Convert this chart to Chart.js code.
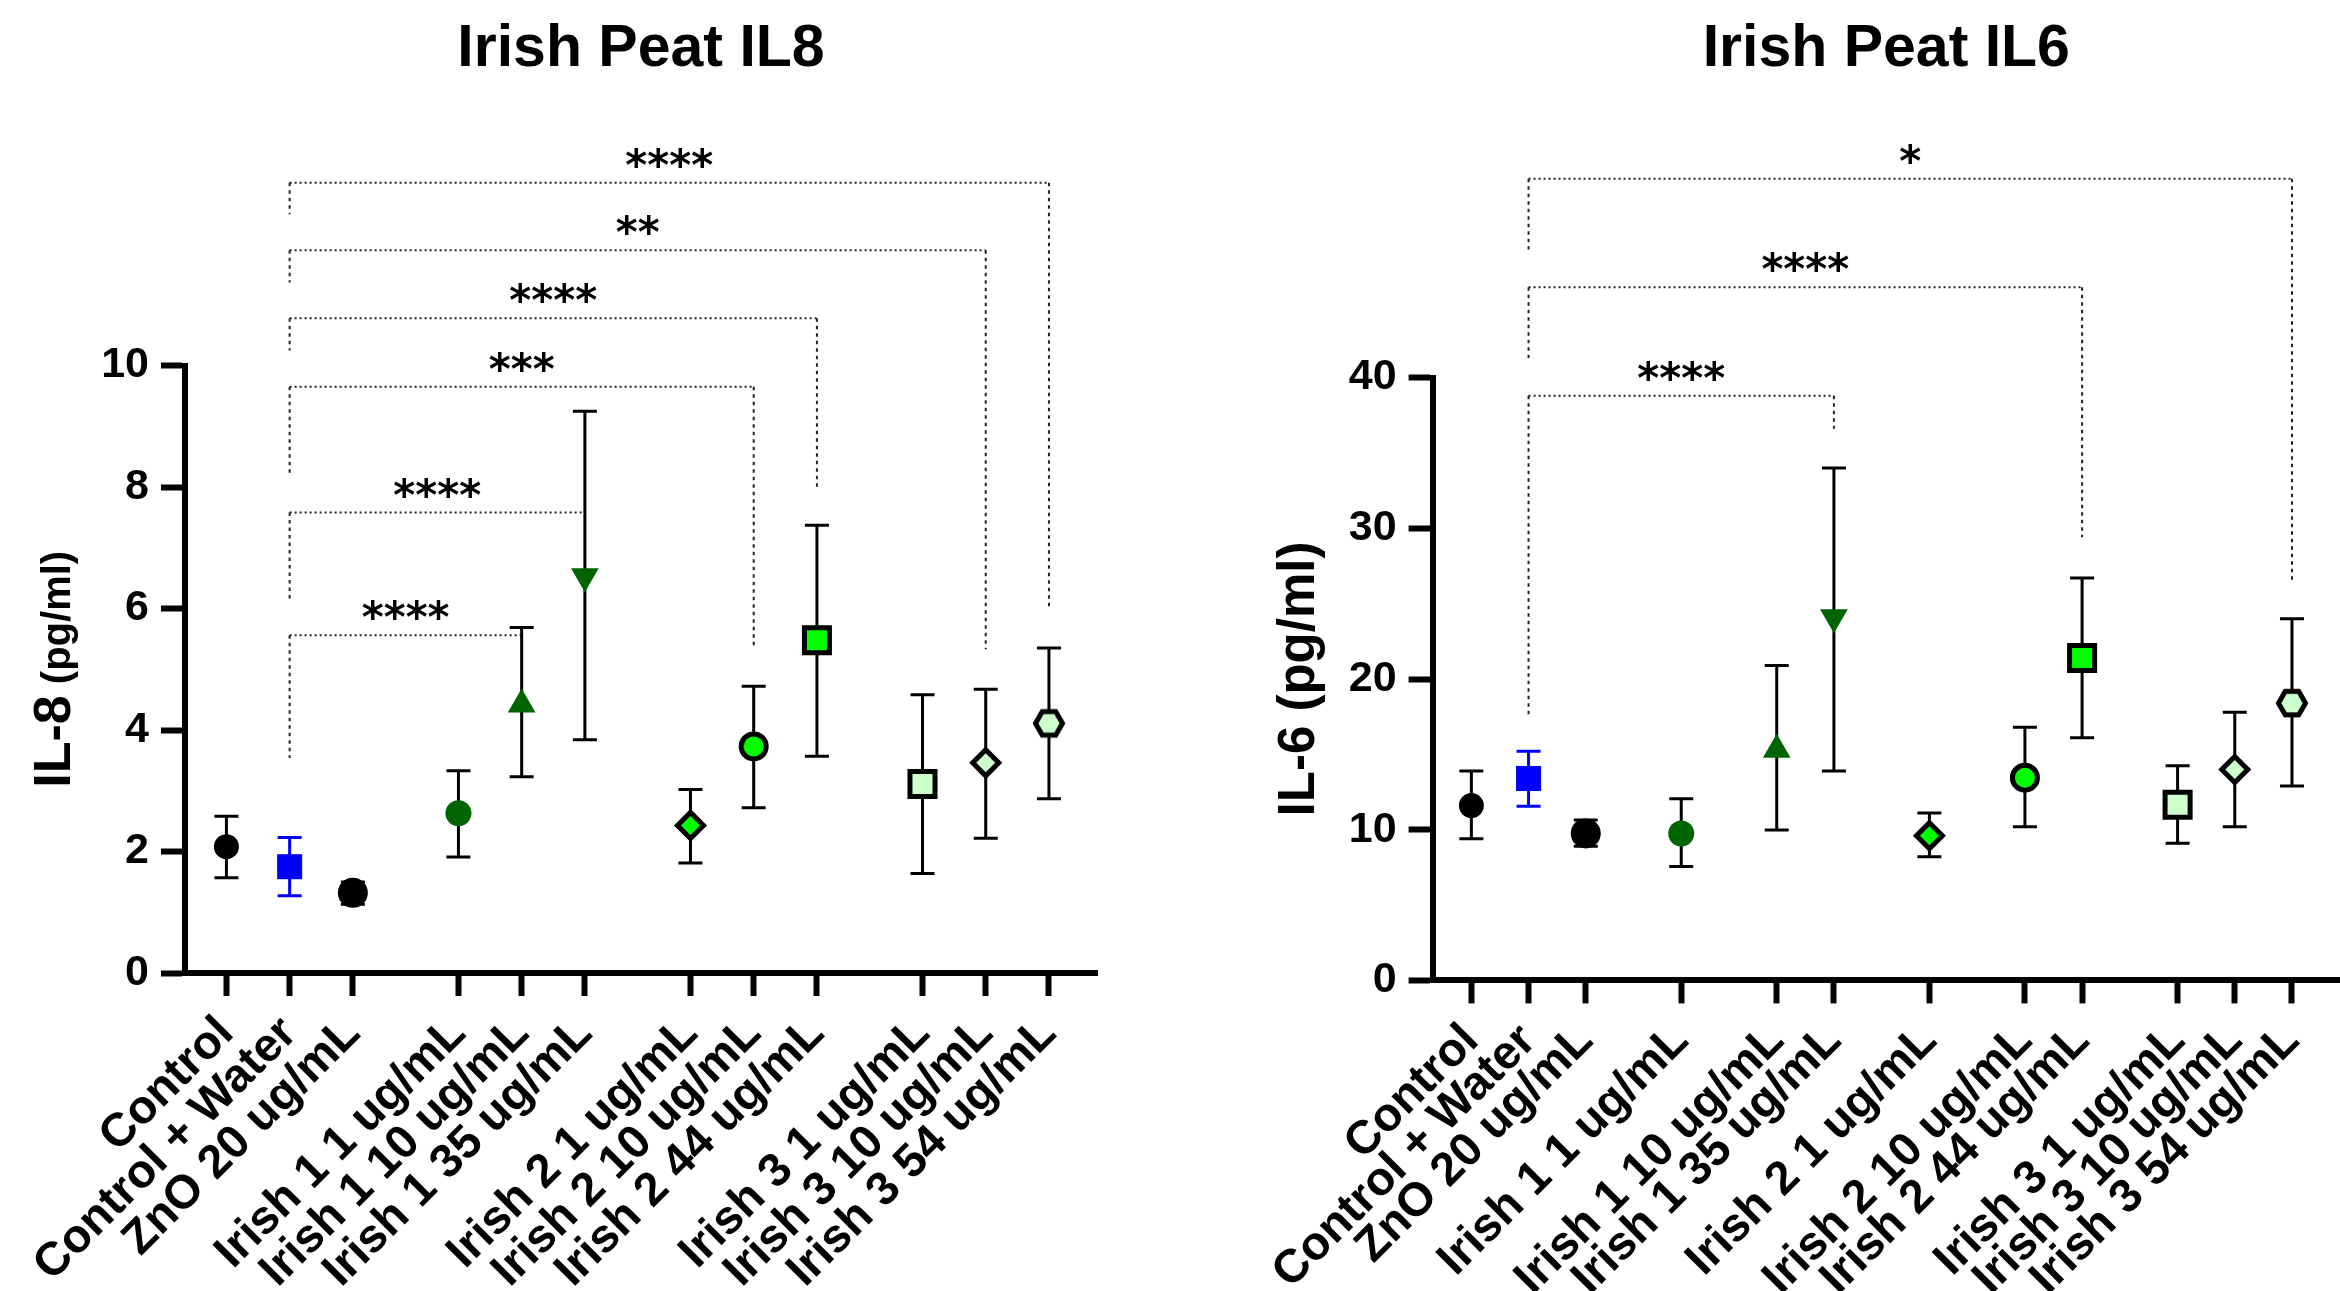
<!DOCTYPE html>
<html><head><meta charset="utf-8">
<script src="https://cdn.jsdelivr.net/npm/chart.js@4.4.1/dist/chart.umd.min.js"></script>
<style>
html,body{margin:0;padding:0;background:#fff;}
body{width:2340px;height:1291px;position:relative;overflow:hidden;}
canvas{position:absolute;top:0;}
#c1{left:0;} #c2{left:1200px;}
</style></head><body>
<canvas id="c1" width="1200" height="1291"></canvas>
<canvas id="c2" width="1140" height="1291"></canvas>
<script>
// ---------- data ----------
const categories = ['Control','Control + Water','ZnO 20 ug/mL','Irish 1 1 ug/mL','Irish 1 10 ug/mL','Irish 1 35 ug/mL','Irish 2 1 ug/mL','Irish 2 10 ug/mL','Irish 2 44 ug/mL','Irish 3 1 ug/mL','Irish 3 10 ug/mL','Irish 3 54 ug/mL'];

const il8Mean = [2.08, 1.75, 1.32, 2.63, 4.42, 6.53, 2.43, 3.73, 5.48, 3.11, 3.46, 4.11];
const il8Low  = [1.57, 1.27, 1.13, 1.91, 3.23, 3.84, 1.81, 2.72, 3.57, 1.64, 2.22, 2.87];
const il8High = [2.58, 2.23, 1.50, 3.33, 5.69, 9.25, 3.02, 4.72, 7.37, 4.58, 4.67, 5.35];

const il6Mean = [11.6, 13.4, 9.75, 9.75, 15.3, 24.1, 9.6, 13.45, 21.4, 11.65, 14.0, 18.4];
const il6Low  = [9.4, 11.55, 8.9, 7.55, 9.98, 13.9, 8.2, 10.2, 16.1, 9.1, 10.2, 12.9];
const il6High = [13.9, 15.2, 10.65, 12.05, 20.9, 34.0, 11.1, 16.8, 26.7, 14.25, 17.8, 24.0];

const il8Groups = [0,0,0,1,1,1,2,2,2,3,3,3];
const il6Groups = [0,0,0,1,2,2,3,4,4,5,5,5];

const il8YTicks = [0,2,4,6,8,10];
const il6YTicks = [0,10,20,30,40];

const il8BracketTo       = [4, 5, 7, 8, 10, 11];
const il8BracketLevel    = [5.56, 7.58, 9.65, 10.78, 11.9, 13.01];
const il8BracketLeftEnd  = [3.54, 6.14, 8.18, 10.25, 11.37, 12.49];
const il8BracketRightEnd = [5.56, 7.58, 5.33, 7.98, 5.33, 5.98];
const il8BracketLabel    = ['****','****','***','****','**','****'];

const il6BracketTo       = [5, 8, 11];
const il6BracketLevel    = [38.8, 46.0, 53.2];
const il6BracketLeftEnd  = [17.5, 41.3, 48.5];
const il6BracketRightEnd = [36.6, 29.4, 26.4];
const il6BracketLabel    = ['****','****','*'];

// ---------- styles ----------
const FONT = '"Liberation Sans", Arial, Helvetica, sans-serif';
const GAP = 0.67;
const DG = '#006400', BG = '#00ff00', LG = '#ccffcc';

function hexagon(fill){
  const c = document.createElement('canvas');
  c.width = 36; c.height = 32;
  const g = c.getContext('2d');
  const R = 13.5, cx = 18, cy = 16;
  g.beginPath();
  for (let k=0;k<6;k++){ const a = k*Math.PI/3; const px = cx+R*Math.cos(a), py = cy+R*Math.sin(a); k?g.lineTo(px,py):g.moveTo(px,py); }
  g.closePath();
  g.fillStyle = fill; g.fill();
  g.lineWidth = 5; g.strokeStyle = '#000'; g.lineJoin = 'miter'; g.stroke();
  return c;
}
const markerStyle  = ['circle','rect','circle','circle','triangle','triangle','rectRot','circle','rect','rect','rectRot', hexagon(LG)];
const markerRadius = [12.5, 17.7, 15, 13, 16, 16, 13, 12.5, 17.7, 17.7, 13, 15];
const markerRot    = [0,0,0,0,0,180,0,0,0,0,0,0];
const markerFill   = ['#000','#0000ff','#000',DG,DG,DG,BG,BG,BG,LG,LG,LG];
const markerBorder = ['#000','#0000ff','#000',DG,DG,DG,'#000','#000','#000','#000','#000','#000'];
const markerBW     = [0,0,0,0,0,0,5,5,5,5,5,5];
const errColor     = ['#000','#0000ff','#000','#000','#000','#000','#000','#000','#000','#000','#000','#000'];

// ---------- plugins ----------
const brackets = {
  id:'brackets',
  beforeDatasetsDraw(chart, args, o){
    const {ctx, scales:{x,y}} = chart;
    const x1 = x.getPixelForValue(o.xs[1]);
    ctx.save();
    ctx.strokeStyle = '#222'; ctx.lineWidth = 2;
    o.to.forEach((t,k)=>{
      const x2 = x.getPixelForValue(o.xs[t]);
      const yl = y.getPixelForValue(o.level[k]);
      const yL = y.getPixelForValue(o.leftEnd[k]);
      const yR = y.getPixelForValue(o.rightEnd[k]);
      ctx.setLineDash([2,3]);
      ctx.beginPath(); ctx.moveTo(x1, yl); ctx.lineTo(x2, yl); ctx.stroke();
      ctx.setLineDash([3.5,4]);
      ctx.beginPath(); ctx.moveTo(x1, yl); ctx.lineTo(x1, yL);
      if (yR > yl + 0.5) { ctx.moveTo(x2, yl); ctx.lineTo(x2, yR); }
      ctx.stroke();
      ctx.setLineDash([]);
      ctx.fillStyle = '#000';
      ctx.font = 'bold 42px "DejaVu Sans", sans-serif';
      ctx.textAlign = 'center'; ctx.textBaseline = 'alphabetic';
      ctx.fillText(o.label[k], (x1+x2)/2, yl - 3);
    });
    ctx.restore();
  }
};
const errorBars = {
  id:'errorBars',
  beforeDatasetsDraw(chart, args, o){
    const {ctx, scales:{x,y}} = chart;
    ctx.save();
    ctx.lineWidth = 3; ctx.lineCap = 'butt';
    o.low.forEach((lo,i)=>{
      const px = x.getPixelForValue(o.xs[i]);
      const pl = y.getPixelForValue(lo), ph = y.getPixelForValue(o.high[i]);
      ctx.strokeStyle = errColor[i];
      ctx.beginPath();
      ctx.moveTo(px, pl); ctx.lineTo(px, ph);
      ctx.moveTo(px-12, pl); ctx.lineTo(px+12, pl);
      ctx.moveTo(px-12, ph); ctx.lineTo(px+12, ph);
      ctx.stroke();
    });
    ctx.restore();
  }
};
const yTitle = {
  id:'yTitle',
  afterDraw(chart, args, o){
    const {ctx, chartArea} = chart;
    const cy = (chartArea.top + chartArea.bottom)/2;
    ctx.save();
    ctx.translate(chartArea.left - o.offset, cy);
    ctx.rotate(-Math.PI/2);
    ctx.fillStyle = '#000'; ctx.textAlign = 'left'; ctx.textBaseline = 'alphabetic';
    let total = 0;
    const w = o.parts.map(p=>{ ctx.font = `bold ${p.size}px ${FONT}`; const m = ctx.measureText(p.text).width; total += m; return m; });
    let xx = -total/2;
    o.parts.forEach((p,i)=>{ ctx.font = `bold ${p.size}px ${FONT}`; ctx.fillText(p.text, xx, 0); xx += w[i]; });
    ctx.restore();
  }
};

// ---------- chart builder ----------
function makeChart(id, cfg){
  const xs = cfg.mean.map((v,i)=> i + GAP*cfg.groups[i]);
  new Chart(document.getElementById(id), {
    type:'scatter',
    data:{ datasets:[{
      data: cfg.mean.map((v,i)=>({x: xs[i], y: v})),
      showLine:false,
      pointStyle: markerStyle,
      pointRadius: markerRadius,
      pointHoverRadius: markerRadius,
      pointRotation: markerRot,
      pointBackgroundColor: markerFill,
      pointBorderColor: markerBorder,
      pointBorderWidth: markerBW,
      clip: false
    }]},
    options:{
      responsive:false, animation:false, devicePixelRatio:1, events:[],
      layout:{ autoPadding:false, padding:{ left:0, top:0, bottom:0, right: cfg.padRight } },
      plugins:{
        legend:{display:false}, tooltip:{enabled:false},
        title:{ display:true, text: cfg.title, fullSize:false, color:'#000',
                font:{family:FONT, size:59, weight:'bold', lineHeight:1.2},
                padding:{ top:14, bottom: cfg.areaTop - 14 - 59*1.2 } },
        errorBars:{ xs, low: cfg.low, high: cfg.high },
        brackets:{ xs, to: cfg.bTo, level: cfg.bLevel, leftEnd: cfg.bLeft, rightEnd: cfg.bRight, label: cfg.bLabel },
        yTitle:{ offset: cfg.titleOffset, parts: cfg.yParts }
      },
      scales:{
        x:{
          type:'linear', min: cfg.xMin, max: cfg.xMax,
          afterBuildTicks: s => { s.ticks = xs.map(v=>({value:v})); },
          afterFit: s => { s.height = cfg.xAxisH; s.paddingLeft = 0; s.paddingRight = 0; },
          border:{display:true, color:'#000', width:6},
          grid:{display:true, drawOnChartArea:false, drawTicks:true, tickLength:23, tickWidth:6, tickColor:'#000', color:'#000'},
          ticks:{ autoSkip:false, minRotation:45, maxRotation:45, padding:10, color:'#000',
                  font:{family:FONT, size:47, weight:'bold'},
                  callback:(v,i)=> categories[i] }
        },
        y:{
          type:'linear', min:0, max: cfg.yMax,
          afterBuildTicks: s => { s.ticks = cfg.yTicks.map(v=>({value:v})); },
          afterFit: s => { s.width = cfg.yAxisW; },
          border:{display:true, color:'#000', width:6},
          grid:{display:true, drawOnChartArea:false, drawTicks:true, tickLength:24, tickWidth:6, tickColor:'#000', color:'#000'},
          ticks:{ padding:12, color:'#000', font:{family:FONT, size:43, weight:'bold'}, callback: v => String(v) }
        }
      }
    },
    plugins:[brackets, errorBars, yTitle]
  });
}

makeChart('c1', {
  title:'Irish Peat IL8', mean: il8Mean, low: il8Low, high: il8High, groups: il8Groups,
  yTicks: il8YTicks, yMax: 10, xMin: -0.655, xMax: 13.77,
  areaTop: 365.6, xAxisH: 318, yAxisW: 185, padRight: 103,
  bTo: il8BracketTo, bLevel: il8BracketLevel, bLeft: il8BracketLeftEnd, bRight: il8BracketRightEnd, bLabel: il8BracketLabel,
  titleOffset: 115, yParts:[{text:'IL-8', size:52},{text:' (pg/ml)', size:40}]
});
makeChart('c2', {
  title:'Irish Peat IL6', mean: il6Mean, low: il6Low, high: il6High, groups: il6Groups,
  yTicks: il6YTicks, yMax: 40, xMin: -0.678, xMax: 15.19,
  areaTop: 377.6, xAxisH: 310.6, yAxisW: 232.6, padRight: 0,
  bTo: il6BracketTo, bLevel: il6BracketLevel, bLeft: il6BracketLeftEnd, bRight: il6BracketRightEnd, bLabel: il6BracketLabel,
  titleOffset: 119, yParts:[{text:'IL-6 (pg/ml)', size:51}]
});
</script>
</body></html>
